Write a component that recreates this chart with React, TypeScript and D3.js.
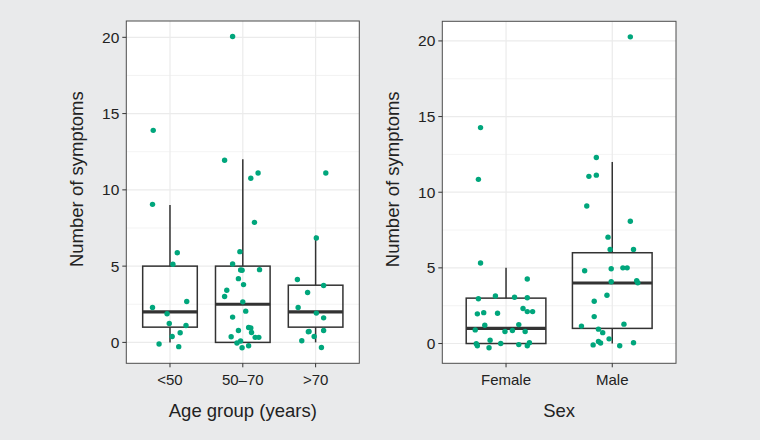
import React from 'react';
import * as d3 from 'd3';

// box statistics per group
const ageGroups = ['<50', '50–70', '>70'];
const ageLower = [0, 0, 0];
const ageQ1 = [1, 0, 1];
const ageMedian = [2, 2.5, 2];
const ageQ3 = [5, 5, 3.75];
const ageUpper = [9, 12, 7];

const sexGroups = ['Female', 'Male'];
const sexLower = [0, 0];
const sexQ1 = [0, 1];
const sexMedian = [1, 4];
const sexQ3 = [3, 6];
const sexUpper = [5, 12];

// jittered points: [horizontal jitter in category units, value]
const under50: [number, number][] = [
    [-0.23, 13.9], [-0.24, 9.05], [0.1, 5.88], [0.04, 5.12], [0.23, 2.68], [-0.24, 2.29],
    [-0.04, 1.88], [-0.01, 1.24], [0.22, 1.11], [0.03, 0.39], [0.14, 0.63], [-0.15, -0.1], [0.12, -0.28]
];
const age50to70: [number, number][] = [
    [-0.14, 20.05], [-0.25, 11.94], [0.11, 10.76], [0.21, 11.11], [0.16, 7.87], [-0.04, 5.95],
    [-0.14, 5.14], [-0.03, 4.75], [-0.01, 4.73], [0.23, 4.77], [-0.06, 4.18], [0.01, 3.79],
    [-0.22, 3.42], [-0.25, 3.01], [0.0, 2.66], [0.04, 2.05], [-0.14, 1.66], [0.08, 0.98],
    [0.11, 0.94], [-0.06, 0.78], [0.12, 0.65], [-0.16, 0.37], [0.17, 0.33], [0.22, 0.33],
    [-0.08, -0.04], [-0.03, 0.09], [0.08, -0.22], [-0.01, -0.35]
];
const over70: [number, number][] = [
    [0.14, 11.11], [0.01, 6.84], [-0.25, 4.12], [0.11, 3.73], [-0.11, 3.27], [-0.24, 2.29],
    [0.01, 1.92], [0.11, 1.61], [-0.09, 0.72], [-0.1, 0.7], [0.11, 0.78], [-0.02, 0.39],
    [-0.19, 0.11], [0.08, -0.33]
];
const female: [number, number][] = [
    [-0.24, 14.27], [-0.26, 10.85], [-0.24, 5.32], [0.2, 4.26], [-0.1, 3.14], [0.08, 3.06],
    [0.2, 3.03], [-0.26, 2.96], [0.16, 2.31], [0.2, 2.11], [0.25, 2.11], [-0.21, 2.04],
    [-0.27, 1.96], [-0.08, 2.0], [-0.2, 1.21], [0.12, 1.25], [-0.29, 0.9], [0.06, 0.86],
    [-0.01, 0.79], [0.18, 0.79], [-0.15, 0.22], [-0.05, 0.0], [-0.28, -0.02], [-0.27, -0.15],
    [0.12, -0.07], [0.22, 0.05], [0.2, -0.15], [-0.16, -0.28]
];
const male: [number, number][] = [
    [0.17, 20.27], [-0.15, 12.3], [-0.22, 11.05], [-0.15, 11.13], [-0.24, 9.09], [0.17, 8.08],
    [-0.04, 7.03], [-0.02, 6.22], [0.2, 6.22], [-0.26, 4.81], [-0.01, 4.94], [0.1, 5.0],
    [0.14, 5.0], [-0.01, 4.08], [0.23, 4.15], [0.24, 4.02], [-0.05, 3.19], [-0.17, 2.79],
    [-0.17, 1.78], [-0.29, 1.15], [0.11, 1.28], [-0.13, 0.95], [-0.09, 0.72], [-0.03, 0.31],
    [-0.13, 0.13], [-0.11, 0.03], [-0.18, -0.09], [0.2, 0.05], [0.07, -0.15]
];

const yTicks = [0, 5, 10, 15, 20];
const yMinor = [2.5, 7.5, 12.5, 17.5];

const FONT = '"Liberation Sans", Arial, sans-serif';
const POINT = '#00a67c';
const INK = '#333333';

interface PanelProps {
    left: number;
    right: number;
    top: number;
    bottom: number;
    groups: string[];
    lower: number[];
    q1: number[];
    median: number[];
    q3: number[];
    upper: number[];
    points: [number, number][][];
    xTitle: string;
}

function Panel(p: PanelProps) {
    const n = p.groups.length;
    const x = d3.scaleLinear().domain([0.4, n + 0.6]).range([p.left, p.right]);
    const all = p.points.flat().map((d) => d[1]);
    const [lo, hi] = d3.extent(all) as [number, number];
    const pad = (hi - lo) * 0.05; // ggplot-style 5% expansion
    const y = d3.scaleLinear().domain([lo - pad, hi + pad]).range([p.bottom, p.top]);
    const boxW = (x(2) - x(1)) * 0.75;
    const cy = (p.top + p.bottom) / 2 - 13;

    return (
        <g>
            <rect x={p.left} y={p.top} width={p.right - p.left} height={p.bottom - p.top} fill="#fff" />
            {yMinor.map((t) => (
                <line key={'m' + t} x1={p.left} x2={p.right} y1={y(t)} y2={y(t)} stroke="#ebebeb" strokeWidth={0.6} />
            ))}
            {yTicks.map((t) => (
                <line key={'g' + t} x1={p.left} x2={p.right} y1={y(t)} y2={y(t)} stroke="#ebebeb" strokeWidth={1.2} />
            ))}
            {p.groups.map((g, i) => (
                <line key={'v' + g} x1={x(i + 1)} x2={x(i + 1)} y1={p.top} y2={p.bottom} stroke="#ebebeb" strokeWidth={1.2} />
            ))}
            {p.groups.map((g, i) => {
                const cx = x(i + 1);
                return (
                    <g key={'b' + g} stroke={INK} fill="none">
                        <line x1={cx} x2={cx} y1={y(p.q3[i])} y2={y(p.upper[i])} strokeWidth={1.5} />
                        <line x1={cx} x2={cx} y1={y(p.q1[i])} y2={y(p.lower[i])} strokeWidth={1.5} />
                        <rect x={cx - boxW / 2} y={y(p.q3[i])} width={boxW} height={y(p.q1[i]) - y(p.q3[i])} strokeWidth={1.5} />
                        <line x1={cx - boxW / 2} x2={cx + boxW / 2} y1={y(p.median[i])} y2={y(p.median[i])} strokeWidth={3.2} />
                    </g>
                );
            })}
            {p.points.map((pts, i) =>
                pts.map((d, j) => (
                    <circle key={`p${i}-${j}`} cx={x(i + 1 + d[0])} cy={y(d[1])} r={2.7} fill={POINT} />
                ))
            )}
            <rect x={p.left} y={p.top} width={p.right - p.left} height={p.bottom - p.top} fill="none" stroke="#4d4d4d" strokeWidth={1} />
            {yTicks.map((t) => (
                <g key={'yt' + t}>
                    <line x1={p.left - 4} x2={p.left} y1={y(t)} y2={y(t)} stroke={INK} strokeWidth={1} />
                    <text x={p.left - 7} y={y(t)} dy="0.35em" textAnchor="end" fontSize={15.5} fill="#222" fontFamily={FONT}>{t}</text>
                </g>
            ))}
            {p.groups.map((g, i) => (
                <g key={'xt' + g}>
                    <line x1={x(i + 1)} x2={x(i + 1)} y1={p.bottom} y2={p.bottom + 4} stroke={INK} strokeWidth={1} />
                    <text x={x(i + 1)} y={p.bottom + 22} textAnchor="middle" fontSize={15} fill="#222" fontFamily={FONT}>{g}</text>
                </g>
            ))}
            <text x={(p.left + p.right) / 2} y={p.bottom + 54} textAnchor="middle" fontSize={18.5} fill="#222" fontFamily={FONT}>{p.xTitle}</text>
            <text transform={`translate(${p.left - 43}, ${cy}) rotate(-90)`} textAnchor="middle" fontSize={18.5} fill="#222" fontFamily={FONT}>Number of symptoms</text>
        </g>
    );
}

export default function App() {
    return (
        <svg width={760} height={440} style={{ position: 'absolute', left: 0, top: 0 }}>
            <rect width={760} height={440} fill="#e9eaeb" />
            <Panel
                left={126.3} right={359.3} top={21} bottom={363.3}
                groups={ageGroups} lower={ageLower} q1={ageQ1} median={ageMedian} q3={ageQ3} upper={ageUpper}
                points={[under50, age50to70, over70]} xTitle="Age group (years)"
            />
            <Panel
                left={442.3} right={676} top={21.3} bottom={363.3}
                groups={sexGroups} lower={sexLower} q1={sexQ1} median={sexMedian} q3={sexQ3} upper={sexUpper}
                points={[female, male]} xTitle="Sex"
            />
        </svg>
    );
}
